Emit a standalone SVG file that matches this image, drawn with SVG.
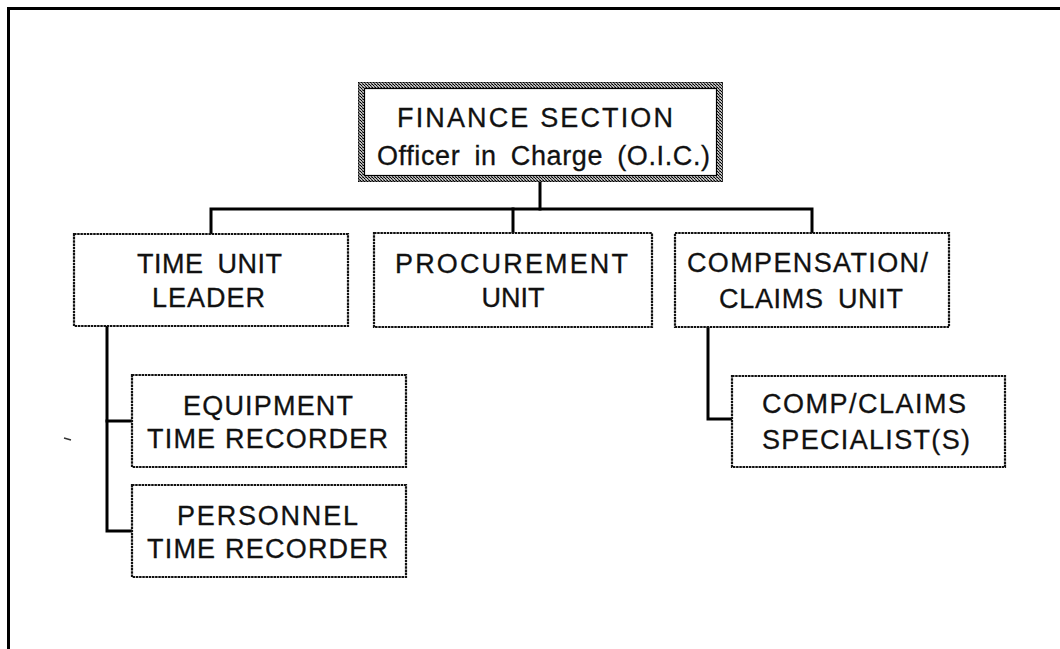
<svg xmlns="http://www.w3.org/2000/svg" width="1060" height="649" viewBox="0 0 1060 649">
<defs>
<pattern id="hatch" width="3" height="3" patternUnits="userSpaceOnUse">
<rect width="3" height="3" fill="#bbb"/>
<rect x="0" y="0" width="1" height="1" fill="#000"/>
<rect x="1" y="1" width="1" height="1" fill="#000"/>
<rect x="2" y="2" width="1" height="1" fill="#333"/>
<rect x="2" y="0" width="1" height="1" fill="#666"/>
</pattern>
<style>
.box{fill:#fff;stroke:#111;stroke-width:2.2;stroke-dasharray:2.5 0.7}
.t{font-family:"Liberation Sans",Arial,sans-serif;font-size:27px;fill:#111;stroke:#111;stroke-width:0.3}
.c{fill:none;stroke:#000;stroke-width:3;stroke-linecap:square}
.frame{fill:none;stroke:#000;stroke-width:3}
</style>
</defs>
<rect width="1060" height="649" fill="#fff"/>
<g id="frame">
<line class="frame" x1="8" y1="8.5" x2="1060" y2="8.5"/>
<line class="frame" x1="8.5" y1="7" x2="8.5" y2="649"/>
</g>
<g id="connectors">
<line class="c" x1="540" y1="182" x2="540" y2="209"/>
<polyline class="c" points="211,233 211,209 812,209 812,233"/>
<line class="c" x1="513" y1="209" x2="513" y2="233"/>
<polyline class="c" points="107,327 107,531 131,531"/>
<line class="c" x1="107" y1="421" x2="131" y2="421"/>
<polyline class="c" points="708,327 708,419 732,419"/>
<line x1="64" y1="438" x2="71" y2="440" stroke="#333" stroke-width="1.5"/>
</g>
<g id="finance">
<rect x="358.5" y="82.5" width="364" height="99" fill="#fff" stroke="#000" stroke-width="1"/>
<rect x="361.5" y="85.5" width="358" height="93" fill="none" stroke="url(#hatch)" stroke-width="6"/>
<rect x="364.5" y="88.5" width="352" height="87" fill="none" stroke="#000" stroke-width="1.2"/>
<text class="t" x="397" y="127" textLength="276" lengthAdjust="spacing">FINANCE SECTION</text>
<text class="t" x="377" y="165" textLength="333" lengthAdjust="spacing" word-spacing="6">Officer in Charge (O.I.C.)</text>
</g>
<g id="time-unit">
<rect class="box" x="74" y="234" width="274" height="92"/>
<text class="t" x="137" y="273" textLength="145" lengthAdjust="spacing" word-spacing="6">TIME UNIT</text>
<text class="t" x="152" y="307" textLength="113" lengthAdjust="spacing">LEADER</text>
</g>
<g id="procurement">
<rect class="box" x="374" y="233" width="278" height="94"/>
<text class="t" x="395" y="273" textLength="233" lengthAdjust="spacing">PROCUREMENT</text>
<text class="t" x="513" y="307" text-anchor="middle">UNIT</text>
</g>
<g id="compensation">
<rect class="box" x="675" y="233" width="274" height="94"/>
<text class="t" x="687" y="272" textLength="241" lengthAdjust="spacing">COMPENSATION/</text>
<text class="t" x="719" y="308" textLength="184" lengthAdjust="spacing" word-spacing="6">CLAIMS UNIT</text>
</g>
<g id="equipment">
<rect class="box" x="132" y="375" width="274" height="92"/>
<text class="t" x="183" y="415" textLength="170" lengthAdjust="spacing">EQUIPMENT</text>
<text class="t" x="147" y="448" textLength="241" lengthAdjust="spacing">TIME RECORDER</text>
</g>
<g id="personnel">
<rect class="box" x="132" y="485" width="274" height="92"/>
<text class="t" x="177" y="525" textLength="181" lengthAdjust="spacing">PERSONNEL</text>
<text class="t" x="147" y="558" textLength="241" lengthAdjust="spacing">TIME RECORDER</text>
</g>
<g id="comp-claims">
<rect class="box" x="732" y="376" width="273" height="91"/>
<text class="t" x="762" y="413" textLength="204" lengthAdjust="spacing">COMP/CLAIMS</text>
<text class="t" x="762" y="449" textLength="208" lengthAdjust="spacing">SPECIALIST(S)</text>
</g>
</svg>
